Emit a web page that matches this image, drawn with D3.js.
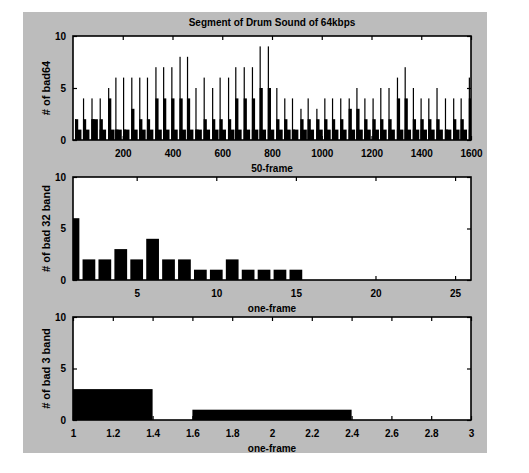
<!DOCTYPE html>
<html><head><meta charset="utf-8">
<script src="https://cdn.jsdelivr.net/npm/d3@7"></script>
<style>
html,body{margin:0;padding:0;background:#fff;}
text{font-family:"Liberation Sans",Arial,sans-serif;font-weight:bold;fill:#000;}
</style></head>
<body>
<svg id="c" width="529" height="473"></svg>
<script>
// ---------- data ----------
const titleText = "Segment of Drum Sound of 64kbps";
// panel 1: bursts of bad frames (frame index of spike, spike height, following level, tail level)
const burstFrame = [8,40,74,107,141,170,201,234,266,297,331,362,395,428,458,492,525,559,589,623,652,686,719,750,783,817,849,880,914,943,978,1010,1041,1074,1108,1139,1171,1204,1235,1268,1302,1333,1366,1397,1428,1461,1495,1528,1558,1591];
const burstPeak  = [2,4,4,4,5,6,6,6,6,6,7,7,7,8,8,5,6,5,6,6,7,7,7,9,9,5,4,4,3,4,3,4,4,4,4,5,4,4,5,5,6,7,5,4,4,5,4,4,4,6];
const burstMid   = [2,2,2,2,4,1,1,3,2,2,4,4,4,4,4,1,2,2,2,2,4,4,4,5,5,2,2,1,2,2,2,2,2,2,3,3,2,2,2,2,4,4,2,2,2,2,1,2,2,4];
const burstTail  = [1,1,2,1,1,1,1,1,1,1,1,1,1,1,1,1,1,1,1,1,1,1,1,1,1,1,1,1,1,1,1,1,1,1,1,1,1,1,1,1,1,1,1,1,1,1,1,1,1,1];
const frameTicks = [200,400,600,800,1000,1200,1400,1600];
// panel 2
const band32X = [1,2,3,4,5,6,7,8,9,10,11,12,13,14,15,16,17,18,19,20,21,22,23,24,25,26];
const band32Count = [6,2,2,3,2,4,2,2,1,1,2,1,1,1,1,0,0,0,0,0,0,0,0,0,0,0];
const band32Ticks = [5,10,15,20,25];
// panel 3
const band3X = [1,2,3];
const band3Count = [3,1,0];
const band3Ticks = [1,1.2,1.4,1.6,1.8,2,2.2,2.4,2.6,2.8,3];
const yTicks = [0,5,10];
const yLabels = ["# of bad64","# of bad 32 band","# of bad 3 band"];
const xLabels = ["50-frame","one-frame","one-frame"];

// ---------- layout ----------
const svg = d3.select("#c");
svg.append("rect").attr("x",23).attr("y",12).attr("width",464).attr("height",441).attr("fill","#bcbcbc");

const L = 73, R = 471;
const panels = [
  {top:36, bottom:140},
  {top:177, bottom:280},
  {top:317, bottom:420}
];

function drawAxes(i, x, xt, fmt){
  const p = panels[i];
  const y = d3.scaleLinear().domain([0,10]).range([p.bottom,p.top]);
  const g = svg.append("g");
  const tl = 4;
  g.append("g").attr("transform",`translate(0,${p.bottom})`)
    .call(d3.axisBottom(x).tickValues(xt).tickSize(-tl).tickFormat(fmt).tickPadding(8))
    .call(a=>{a.select(".domain").remove();a.selectAll("text").attr("font-size",10).attr("dy","0.9em");});
  g.append("g").attr("transform",`translate(0,${p.top})`)
    .call(d3.axisTop(x).tickValues(xt).tickSize(-tl).tickFormat(""))
    .call(a=>a.select(".domain").remove());
  g.append("g").attr("transform",`translate(${L},0)`)
    .call(d3.axisLeft(y).tickValues(yTicks).tickSize(-tl).tickPadding(7))
    .call(a=>{a.select(".domain").remove();a.selectAll("text").attr("font-size",10);});
  g.append("g").attr("transform",`translate(${R},0)`)
    .call(d3.axisRight(y).tickValues(yTicks).tickSize(-tl).tickFormat(""))
    .call(a=>a.select(".domain").remove());
  g.selectAll(".tick line").attr("stroke","#000").attr("stroke-width",1.2);
  svg.append("text").attr("x",(L+R)/2).attr("y",p.bottom+32).attr("text-anchor","middle")
    .attr("font-size",10).text(xLabels[i]);
  svg.append("text").attr("transform",`translate(50,${(p.top+p.bottom)/2}) rotate(-90)`)
    .attr("text-anchor","middle").attr("font-size",11).text(yLabels[i]);
  return {y, g};
}

function plotArea(i){
  const p = panels[i];
  svg.append("rect").attr("x",L).attr("y",p.top).attr("width",R-L).attr("height",p.bottom-p.top).attr("fill","#fff");
  const cid = "clip"+i;
  svg.append("clipPath").attr("id",cid).append("rect").attr("x",L).attr("y",p.top).attr("width",R-L).attr("height",p.bottom-p.top);
  return svg.append("g").attr("clip-path",`url(#${cid})`);
}
function frameBox(i){
  const p = panels[i];
  svg.append("rect").attr("x",L).attr("y",p.top).attr("width",R-L).attr("height",p.bottom-p.top)
    .attr("fill","none").attr("stroke","#000").attr("stroke-width",1.6);
}

// ---------- panel 1 ----------
{
  const x = d3.scaleLinear().domain([0,1600]).range([L,R]);
  const y = d3.scaleLinear().domain([0,10]).range([panels[0].bottom,panels[0].top]);
  const g = plotArea(0);
  const bursts = burstFrame.map((f,k)=>({f, peak:burstPeak[k], mid:burstMid[k], tail:burstTail[k]}));
  const bg = g.selectAll("g.b").data(bursts).join("g");
  // overlapping blocks so no seams: tail (widest), mid, spike
  bg.append("rect").attr("x",d=>x(d.f)).attr("width",d=>x(d.f+26)-x(d.f))
    .attr("y",d=>y(d.tail)).attr("height",d=>y(0)-y(d.tail)).attr("fill","#000");
  bg.append("rect").attr("x",d=>x(d.f)).attr("width",d=>x(d.f+13)-x(d.f))
    .attr("y",d=>y(d.mid)).attr("height",d=>y(0)-y(d.mid)).attr("fill","#000");
  bg.append("rect").attr("x",d=>x(d.f)).attr("width",d=>Math.max(1.2,x(d.f+4)-x(d.f)))
    .attr("y",d=>y(d.peak)).attr("height",d=>y(0)-y(d.peak)).attr("fill","#000");
  drawAxes(0, x, frameTicks, d3.format("d"));
  frameBox(0);
}
// ---------- panel 2 ----------
{
  const x = d3.scaleLinear().domain([1,26]).range([L,R]);
  const y = d3.scaleLinear().domain([0,10]).range([panels[1].bottom,panels[1].top]);
  const g = plotArea(1);
  const bw = 0.8;
  g.selectAll("rect.bar").data(band32X.map((v,k)=>({x:v,c:band32Count[k]}))).join("rect")
    .attr("x",d=>x(d.x-bw/2)).attr("width",d=>x(d.x+bw/2)-x(d.x-bw/2))
    .attr("y",d=>y(d.c)).attr("height",d=>Math.max(1,y(0)-y(d.c))).attr("fill","#000");
  drawAxes(1, x, band32Ticks, d3.format("d"));
  frameBox(1);
}
// ---------- panel 3 ----------
{
  const x = d3.scaleLinear().domain([1,3]).range([L,R]);
  const y = d3.scaleLinear().domain([0,10]).range([panels[2].bottom,panels[2].top]);
  const g = plotArea(2);
  const bw = 0.8;
  g.selectAll("rect.bar").data(band3X.map((v,k)=>({x:v,c:band3Count[k]}))).join("rect")
    .attr("x",d=>x(d.x-bw/2)).attr("width",d=>x(d.x+bw/2)-x(d.x-bw/2))
    .attr("y",d=>y(d.c)).attr("height",d=>Math.max(1,y(0)-y(d.c))).attr("fill","#000");
  drawAxes(2, x, band3Ticks, d=>String(d));
  frameBox(2);
}
svg.append("text").attr("x",272).attr("y",26).attr("text-anchor","middle").attr("font-size",10).text(titleText);
</script>
</body></html>
